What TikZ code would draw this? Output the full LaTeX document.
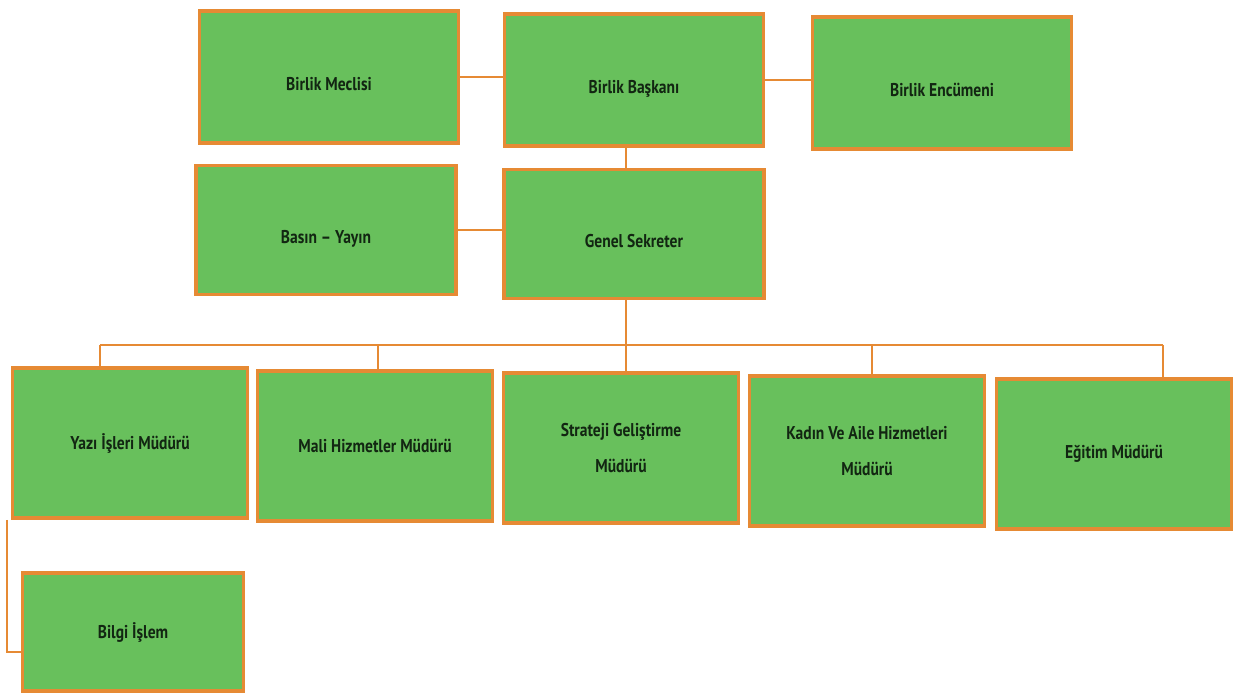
\documentclass[tikz,border=0pt]{standalone}
\usepackage{fontspec}
\setmainfont{PT Sans}[FakeStretch=0.84]
\definecolor{boxgreen}{RGB}{104,192,92}
\definecolor{boxorange}{RGB}{230,138,52}
\definecolor{txt}{RGB}{18,38,18}
\begin{document}
\begin{tikzpicture}[x=1pt,y=-1pt,
  orgbox/.style={draw=boxorange,fill=boxgreen,line width=3.5pt,minimum width=#1,
    inner sep=2pt,align=center,font=\fontsize{18.5}{36}\selectfont\bfseries,text=txt},
  topbox/.style={orgbox=259pt,minimum height=132pt,text height=31pt,text depth=5pt},
  midbox/.style={orgbox=260pt,minimum height=129pt,text height=31pt,text depth=5pt},
  lowbox/.style={orgbox=235pt,minimum height=150pt},
  link/.style={draw=boxorange,line width=1.6pt}]
\useasboundingbox (0,0) rectangle (1236,697);
\node[topbox] (meclis) at (329,77) {Birlik Meclisi};
\node[topbox] (baskan) at (634,80) {Birlik Başkanı};
\node[topbox] (encumen) at (942,83) {Birlik Encümeni};
\node[midbox] (basin) at (326,230) {Basın -- Yayın};
\node[midbox] (genel) at (634,234) {Genel Sekreter};
\node[lowbox] (yazi) at (130,443) {Yazı İşleri Müdürü};
\node[lowbox] (mali) at (375,446) {Mali Hizmetler Müdürü};
\node[lowbox] (strateji) at (621,448) {Strateji Geliştirme\\Müdürü};
\node[lowbox] (kadin) at (867,451) {Kadın Ve Aile Hizmetleri\\Müdürü};
\node[lowbox] (egitim) at (1114,454) {Eğitim Müdürü};
\node[orgbox=221pt,minimum height=118pt] (bilgi) at (133,632) {Bilgi İşlem};
\coordinate (spine) at (626,345);
\coordinate (busL) at (100,345);
\coordinate (busR) at (1163,345);
\coordinate (side) at (7,652);
\draw[link] (meclis.east) -- (meclis.east -| baskan.west);
\draw[link] (baskan.east) -- (baskan.east -| encumen.west);
\draw[link] (basin.east) -- (basin.east -| genel.west);
\draw[link] (baskan.south -| spine) -- (genel.north -| spine);
\draw[link] (genel.south -| spine) -- (spine);
\draw[link] (busL) -- (busR);
\draw[link] (busL) -- (yazi.north -| busL);
\draw[link] (378,345) -- (mali.north -| 378,0);
\draw[link] (spine) -- (strateji.north -| spine);
\draw[link] (872,345) -- (kadin.north -| 872,0);
\draw[link] (busR) -- (egitim.north -| busR);
\draw[link] (yazi.south -| side) -- (side) -- (side -| bilgi.west);
\end{tikzpicture}
\end{document}
